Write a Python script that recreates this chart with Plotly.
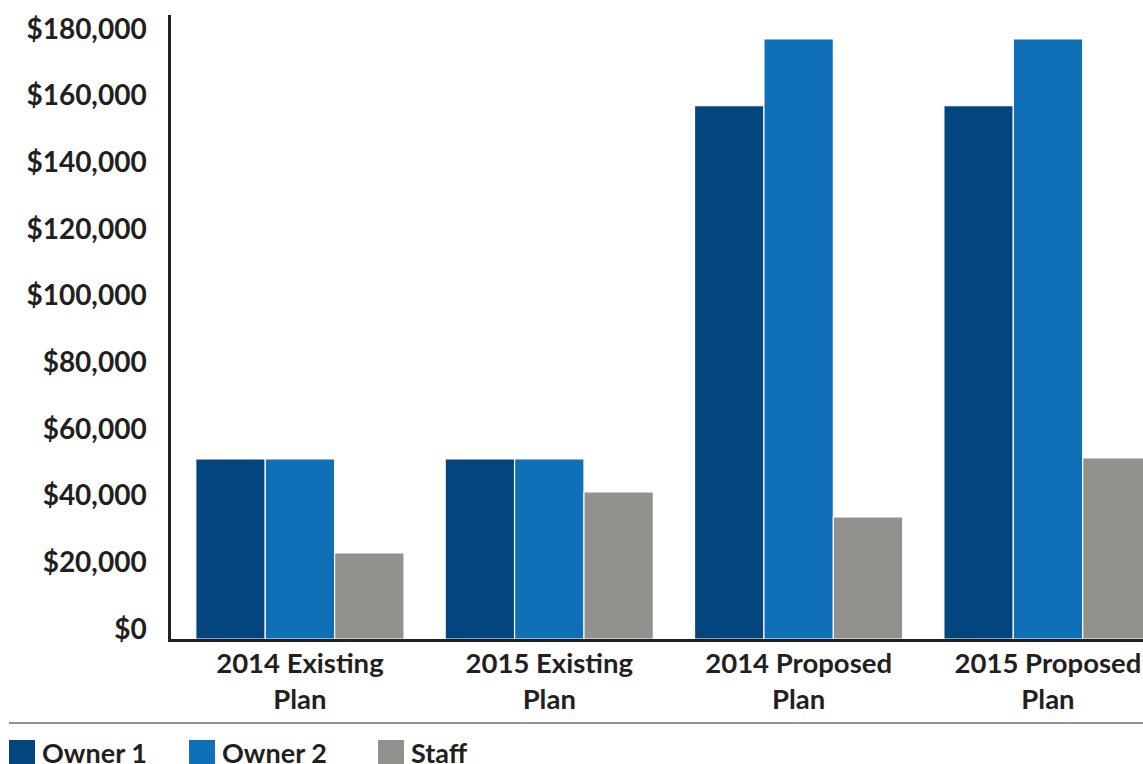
import plotly.graph_objects as go

categories = ["2014 Existing<br>Plan", "2015 Existing<br>Plan", "2014 Proposed<br>Plan", "2015 Proposed<br>Plan"]
series_names = ["Owner 1", "Owner 2", "Staff"]
owner1 = [54000, 54000, 160000, 160000]
owner2 = [54000, 54000, 180000, 180000]
staff = [25800, 44100, 36600, 54300]
tick_values = [0, 20000, 40000, 60000, 80000, 100000, 120000, 140000, 160000, 180000]
tick_labels = ["$" + format(v, ",") for v in tick_values]

colors = ["#03467D", "#0F6FB7", "#91928E"]
FONT = "Lato"
TEXT = "#231F20"

fig = go.Figure()
for name, vals, col in zip(series_names, [owner1, owner2, staff], colors):
    fig.add_trace(go.Bar(
        x=list(range(len(categories))), y=vals, name=name,
        marker=dict(color=col, line=dict(color="white", width=1.2)),
        showlegend=False, hoverinfo="skip",
    ))

W, H = 1143, 764
L, R, T, B = 171, 0, 15, 125
ph = H - T - B
pw = W - L - R
base = H - B  # figure y of plot bottom


def py(page_y):
    return -(page_y - base) / ph


def px(page_x):
    return (page_x - L) / pw


fig.update_layout(
    width=W, height=H,
    margin=dict(l=L, r=R, t=T, b=B),
    paper_bgcolor="white", plot_bgcolor="white",
    barmode="group", bargap=0.165, bargroupgap=0,
    font=dict(family=FONT, size=26, color=TEXT, weight=700),
    xaxis=dict(
        tickmode="array", tickvals=list(range(len(categories))), ticktext=categories,
        range=[-0.517, 3.381], showline=True, linecolor="#231F20", linewidth=2.5,
        showgrid=False, zeroline=False, ticks="", ticklabelstandoff=-2,
        tickfont=dict(family=FONT, size=27.5, color=TEXT, weight=700),
    ),
    yaxis=dict(
        range=[0, 187200], tickmode="array", tickvals=tick_values, ticktext=tick_labels,
        showline=True, linecolor="#231F20",
        linewidth=2.5, showgrid=False, zeroline=False, ticks="",
        ticklabelshift=-10, ticklabelstandoff=16,
        tickfont=dict(family=FONT, size=28, color=TEXT, weight=700),
    ),
)

# separator line above legend
fig.add_shape(type="line", xref="paper", yref="paper",
              x0=px(9), x1=1.0, y0=py(723), y1=py(723),
              line=dict(color="#6D6E71", width=1.5))

# custom legend (large swatches)
legend_x = [9, 189, 378]
for name, col, lx in zip(series_names, colors, legend_x):
    fig.add_shape(type="rect", xref="paper", yref="paper",
                  x0=px(lx), x1=px(lx + 26), y0=py(768), y1=py(740),
                  fillcolor=col, line=dict(width=0))
    fig.add_annotation(xref="paper", yref="paper", x=px(lx + 31),
                       y=py(752), text=name, showarrow=False,
                       xanchor="left", yanchor="middle",
                       font=dict(family=FONT, size=27, color=TEXT, weight=700))

fig.write_html("out.html", config={"displayModeBar": False},
               post_script="document.body.style.margin='0';document.body.style.overflow='hidden';")
